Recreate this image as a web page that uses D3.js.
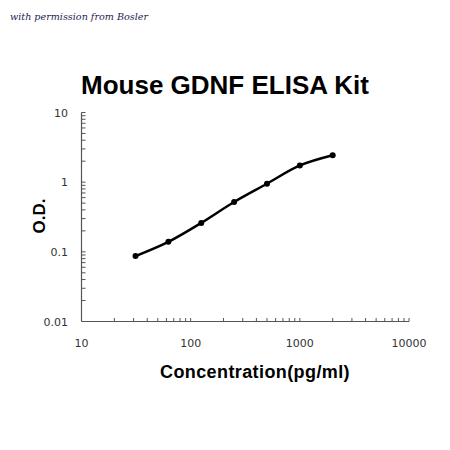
<!DOCTYPE html>
<html>
<head>
<meta charset="utf-8">
<script src="https://cdn.jsdelivr.net/npm/d3@7"></script>
<style>
  body { margin: 0; background: #fff; }
  text { font-family: "Liberation Sans", Arial, sans-serif; }
</style>
</head>
<body>
<script>
// standard curve readings
const concentrations = [31.25, 62.5, 125, 250, 500, 1000, 2000];
const odValues = [0.087, 0.139, 0.26, 0.52, 0.95, 1.74, 2.44];
const xTickValues = [10, 100, 1000, 10000];
const yTickValues = [0.01, 0.1, 1, 10];
const yTickLabels = ['0.01', '0.1', '1', '10'];

const width = 450;
const height = 450;
const plot = { left: 81.5, right: 409, top: 112.5, bottom: 321.5 };

const svg = d3.select('body')
    .append('svg')
    .attr('width', width)
    .attr('height', height);

const x = d3.scaleLog().domain([10, 10000]).range([plot.left, plot.right]);
const y = d3.scaleLog().domain([0.01, 10]).range([plot.bottom, plot.top]);

svg.append('text')
    .attr('x', 10)
    .attr('y', 20)
    .attr('fill', '#1c1c50')
    .style('font-family', '"DejaVu Serif", serif')
    .style('font-style', 'italic')
    .style('font-size', '9.6px')
    .text('with permission from Bosler');

svg.append('text')
    .attr('x', 225)
    .attr('y', 94)
    .attr('text-anchor', 'middle')
    .style('font-size', '26px')
    .style('font-weight', 'bold')
    .text('Mouse GDNF ELISA Kit');

// minor + major ticks, all pointing inward
const minorX = [];
[10, 100, 1000].forEach((d) => { for (let k = 2; k <= 10; k++) minorX.push(d * k); });
const minorY = [];
[0.01, 0.1, 1].forEach((d) => { for (let k = 2; k <= 10; k++) minorY.push(d * k); });

const axisColor = '#555';

svg.append('g')
    .selectAll('line')
    .data(minorX)
    .join('line')
    .attr('x1', (d) => x(d))
    .attr('x2', (d) => x(d))
    .attr('y1', plot.bottom)
    .attr('y2', plot.bottom - 3.5)
    .attr('stroke', axisColor);

svg.append('g')
    .selectAll('line')
    .data(minorY)
    .join('line')
    .attr('x1', plot.left)
    .attr('x2', plot.left + 4)
    .attr('y1', (d) => y(d))
    .attr('y2', (d) => y(d))
    .attr('stroke', axisColor);

svg.append('line')
    .attr('x1', plot.left).attr('x2', plot.right)
    .attr('y1', plot.bottom).attr('y2', plot.bottom)
    .attr('stroke', axisColor).attr('stroke-width', 1.2);
svg.append('line')
    .attr('x1', plot.left).attr('x2', plot.left)
    .attr('y1', plot.top).attr('y2', plot.bottom)
    .attr('stroke', axisColor).attr('stroke-width', 1.2);

svg.append('g')
    .selectAll('text')
    .data(xTickValues)
    .join('text')
    .attr('x', (d) => x(d))
    .attr('y', 347)
    .attr('text-anchor', 'middle')
    .attr('fill', '#333')
    .style('font-family', '"DejaVu Sans", sans-serif')
    .style('font-size', '11px')
    .text((d) => d);

svg.append('g')
    .selectAll('text')
    .data(yTickValues)
    .join('text')
    .attr('x', 68)
    .attr('y', (d) => y(d) + 4)
    .attr('text-anchor', 'end')
    .attr('fill', '#333')
    .style('font-family', '"DejaVu Sans", sans-serif')
    .style('font-size', '11px')
    .text((d, i) => yTickLabels[i]);

svg.append('text')
    .attr('x', 255)
    .attr('y', 378)
    .attr('text-anchor', 'middle')
    .style('font-size', '18px')
    .style('font-weight', 'bold')
    .style('letter-spacing', '0.4px')
    .text('Concentration(pg/ml)');

svg.append('text')
    .attr('transform', 'translate(45,216) rotate(-90)')
    .attr('text-anchor', 'middle')
    .style('font-size', '17px')
    .style('font-weight', 'bold')
    .text('O.D.');

const points = concentrations.map((c, i) => ({ c, od: odValues[i] }));

const line = d3.line()
    .x((d) => x(d.c))
    .y((d) => y(d.od))
    .curve(d3.curveCatmullRom);

svg.append('path')
    .datum(points)
    .attr('fill', 'none')
    .attr('stroke', '#000')
    .attr('stroke-width', 2.5)
    .attr('d', line);

svg.append('g')
    .selectAll('circle')
    .data(points)
    .join('circle')
    .attr('cx', (d) => x(d.c))
    .attr('cy', (d) => y(d.od))
    .attr('r', 3)
    .attr('fill', '#000');
</script>
</body>
</html>
